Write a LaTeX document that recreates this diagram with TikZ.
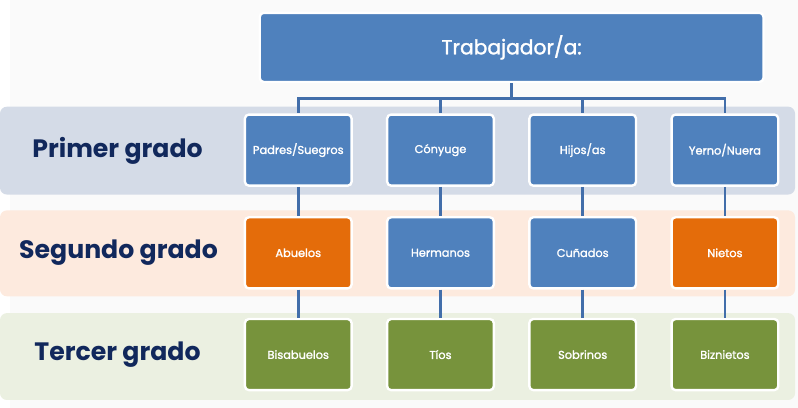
\documentclass[tikz,border=0pt]{standalone}
\usepackage{fontspec}
\setmainfont{Poppins}
\newfontfamily\cellfont[FakeBold=1.6]{Poppins}
\usepackage{xcolor}
\definecolor{pagebg}{RGB}{250,250,250}
\definecolor{boxblue}{RGB}{79,129,189}
\definecolor{boxorange}{RGB}{228,108,10}
\definecolor{boxgreen}{RGB}{119,147,60}
\definecolor{linkblue}{RGB}{66,110,170}
\definecolor{bandblue}{RGB}{212,219,231}
\definecolor{bandorange}{RGB}{253,234,222}
\definecolor{bandgreen}{RGB}{235,240,225}
\definecolor{gradotext}{RGB}{17,40,92}
\usetikzlibrary{positioning}

\begin{document}
\begin{tikzpicture}[
      x=1pt,y=-1pt,
      band/.style={rounded corners=7pt},
      cell/.style={draw=white,line width=2.4pt,rounded corners=4pt,
        minimum width=108pt,minimum height=72pt,inner sep=0pt,
        text=white,font=\cellfont\fontsize{11.5}{13}\selectfont},
      grado/.style={font=\fontsize{25.5}{30}\selectfont\bfseries,text=gradotext},
      link/.style={draw=linkblue,line width=2.6pt}
    ]
    \fill[pagebg] (0,0) rectangle (798,413);
    % bands
    \fill[band,bandblue] (-10,108) rectangle (795,197);
    \fill[band,bandorange] (-10,213) rectangle (795,300);
    \fill[band,bandgreen] (-10,317) rectangle (795,405);
    \node[grado] (g1) at (109,153) {Primer grado};
    \node[grado] (g2) at (110,256) {Segundo grado};
    \node[grado] (g3) at (109,359) {Tercer grado};
    % top
    \node[cell,fill=boxblue,minimum width=510pt,minimum height=70pt,
      font=\cellfont\fontsize{20.5}{24}\selectfont] (top) at (508,48) {Trabajador/a:};
    % first row
    \node[cell,fill=boxblue] (p1) at (292,152) {Padres/Suegros};
    \node[cell,fill=boxblue] (p2) at (436,152) {Cónyuge};
    \node[cell,fill=boxblue] (p3) at (580,152) {Hijos/as};
    \node[cell,fill=boxblue] (p4) at (724,152) {Yerno/Nuera};
    % second row
    \node[cell,fill=boxorange] (s1) at (292,256) {Abuelos};
    \node[cell,fill=boxblue] (s2) at (436,256) {Hermanos};
    \node[cell,fill=boxblue] (s3) at (580,256) {Cuñados};
    \node[cell,fill=boxorange] (s4) at (724,256) {Nietos};
    % third row
    \node[cell,fill=boxgreen] (t1) at (292,359) {Bisabuelos};
    \node[cell,fill=boxgreen] (t2) at (436,359) {Tíos};
    \node[cell,fill=boxgreen] (t3) at (580,359) {Sobrinos};
    \node[cell,fill=boxgreen] (t4) at (724,359) {Biznietos};
    % links
    \coordinate (bar) at (508,100);
    \draw[link] (top.south) -- (bar);
    \foreach \i in {1,...,4} {
      \draw[link] (bar) -| (p\i.north);
      \draw[link] (p\i.south) -- (s\i.north);
      \draw[link] (s\i.south) -- (t\i.north);
    }
  \end{tikzpicture}
\end{document}
